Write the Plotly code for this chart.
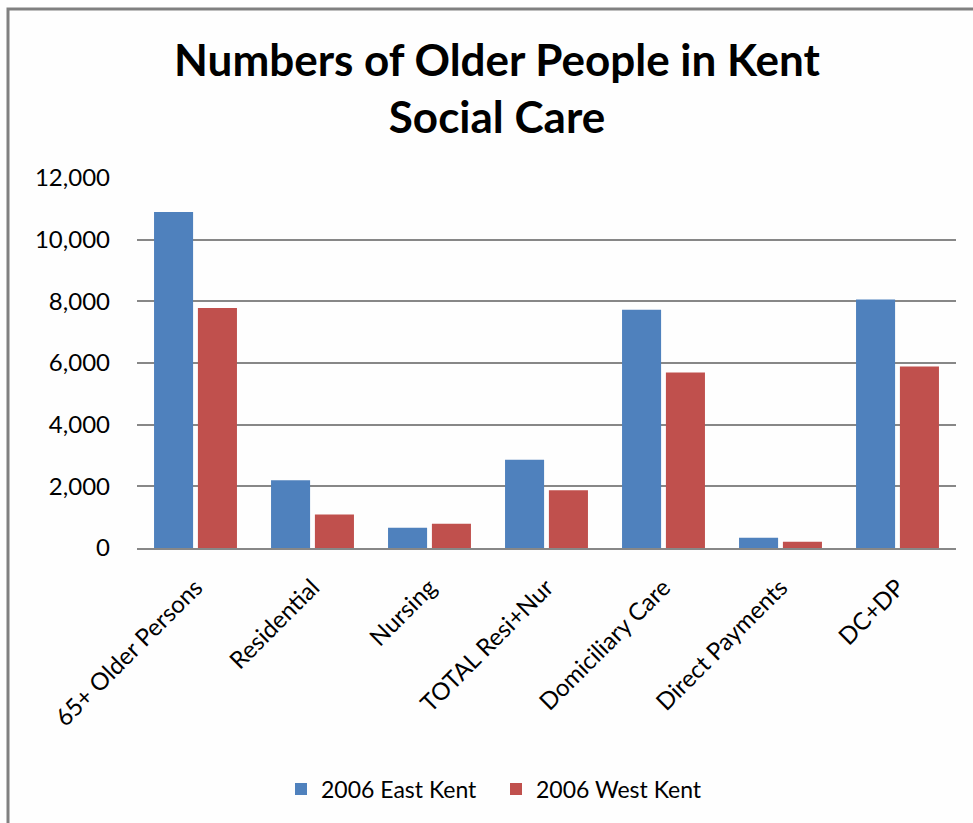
import plotly.graph_objects as go

# Older people in Kent receiving social care, 2006
categories = [
    "65+ Older Persons",
    "Residential",
    "Nursing",
    "TOTAL Resi+Nur",
    "Domiciliary Care",
    "Direct Payments",
    "DC+DP",
]
east_kent_2006 = [10900, 2200, 660, 2860, 7730, 335, 8060]
west_kent_2006 = [7780, 1090, 790, 1870, 5690, 205, 5890]

series_names = ["2006 East Kent", "2006 West Kent"]
series_colors = ["#4F81BD", "#C0504D"]

y_ticks = [0, 2000, 4000, 6000, 8000, 10000, 12000]
title_text = "Numbers of Older People in Kent<br>Social Care"

FONT = "Lato, 'Open Sans', sans-serif"

# plot-area placement in pixels
W, H = 973, 823
L, R, T, B = 137, 17, 178, 275
pw, ph = W - L - R, H - T - B


def px_x(x):
    return (x - L) / pw


def px_y(y):
    return (H - B - y) / ph


fig = go.Figure()
for name, vals, col in zip(series_names, [east_kent_2006, west_kent_2006], series_colors):
    fig.add_trace(go.Bar(x=categories, y=vals, name=name, marker_color=col,
                         marker_line_width=0))

fig.update_layout(
    width=W, height=H,
    margin=dict(l=L, r=R, t=T, b=B, autoexpand=False),
    paper_bgcolor="#FEFEFE", plot_bgcolor="#FEFEFE",
    barmode="group", bargap=0.25, bargroupgap=0.11,
    font=dict(family=FONT, color="#000000"),
    title=dict(text=title_text, x=497 / W, xref="container", xanchor="center",
               y=(H - 76) / H, yref="container", yanchor="middle",
               font=dict(family=FONT, size=44, color="#000000", weight="bold")),
    showlegend=True,
    legend=dict(orientation="h", x=px_x(281), xanchor="left",
                y=px_y(789), yanchor="middle", xref="paper", yref="paper",
                font=dict(size=23, family=FONT), itemwidth=30,
                entrywidth=170, entrywidthmode="pixels",
                traceorder="normal", bgcolor="rgba(0,0,0,0)"),
    xaxis=dict(tickangle=-45, tickfont=dict(size=24, family=FONT),
               showgrid=False, showline=True, linecolor="#878787", linewidth=2,
               ticks="", ticklabelstandoff=14),
    yaxis=dict(range=[0, 12000], tickvals=y_ticks, tickformat=",",
               tickfont=dict(size=24, family=FONT),
               showgrid=True, gridcolor="#878787", gridwidth=1.5,
               zeroline=False, showline=False, ticks="",
               ticklabelstandoff=26),
    shapes=[dict(type="rect", xref="paper", yref="paper",
                 x0=px_x(8), x1=px_x(990), y0=px_y(845), y1=px_y(9),
                 line=dict(color="#808080", width=3), layer="below")],
)

fig.write_html("out.html")
